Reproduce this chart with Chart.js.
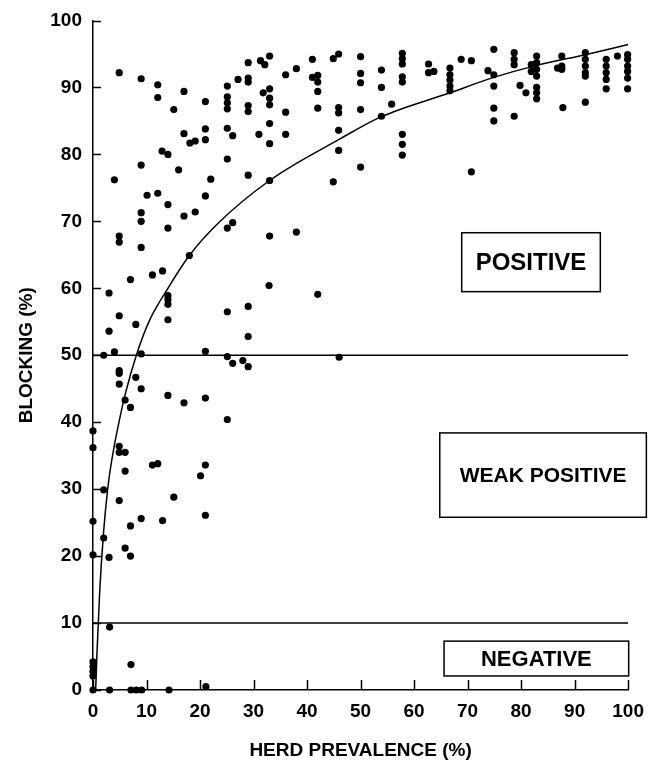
<!DOCTYPE html>
<html>
<head>
<meta charset="utf-8">
<script src="https://cdn.jsdelivr.net/npm/chart.js@4/dist/chart.umd.min.js"></script>
<style>
    html, body { margin: 0; padding: 0; background: #fff; }
    #wrap { width: 656px; height: 760px; position: relative; }
</style>
</head>
<body>
<div id="wrap"><canvas id="chart"></canvas></div>
<script>
// Herd prevalence (%) of each herd
const herdPrev = [
    4.9, 9.0, 12.1, 12.1, 17.0, 15.1, 21.0, 25.1, 25.1, 25.1, 25.1, 27.1, 29.0, 29.0, 29.0, 29.0, 29.0,
    31.3, 32.1, 33.0, 33.0, 31.8, 33.0, 33.0, 33.0, 33.0, 31.0, 17.0, 18.1, 19.1, 21.0, 21.0, 25.1, 26.1,
    25.1, 29.0, 33.0, 12.9, 14.0, 9.0, 16.0, 4.0, 10.1, 12.1, 14.0, 21.0, 22.0, 9.0, 9.0, 17.0, 19.1,
    14.0, 25.1, 26.1, 4.9, 4.9, 33.0, 9.0, 18.0, 7.0, 11.1, 13.0, 32.9, 3.0, 14.0, 14.0, 14.0, 14.0,
    25.1, 29.0, 29.0, 4.9, 3.0, 8.0, 2.0, 4.0, 9.0, 21.0, 25.1, 26.1, 28.0, 29.0, 4.9, 4.9, 4.9, 8.0,
    9.0, 6.0, 7.0, 14.0, 17.0, 21.0, 25.1, 0, 0, 4.9, 4.9, 6.0, 11.1, 12.1, 21.0, 20.1, 6.0, 2.0, 4.9,
    15.1, 0, 7.0, 9.0, 13.0, 21.0, 2.0, 0, 3.0, 6.0, 7.0, 3.1, 0, 0, 0, 0, 7.1, 0, 3.1, 7.1, 8.1, 9.1,
    14.2, 21.1,
    36.0, 38.0, 36.0, 36.0, 38.0, 41.0, 41.0, 42.0, 42.0, 42.0, 42.0, 42.0, 46.0, 45.9, 45.9, 45.9,
    45.9, 44.9, 44.9, 45.9, 50.0, 50.0, 50.0, 50.0, 50.0, 53.9, 53.9, 53.9, 55.8, 57.8, 57.8, 57.8,
    57.8, 57.8, 57.8, 57.8, 57.8, 62.7, 62.7, 63.7, 66.7, 66.7, 66.7, 66.7, 66.7, 68.8, 70.7, 70.7,
    74.9, 73.8, 74.9, 74.9, 74.9, 74.9, 78.7, 78.7, 78.7, 79.8, 80.9, 78.7, 82.9, 82.9, 81.9, 82.9,
    81.9, 82.9, 82.9, 82.9, 82.9, 87.6, 87.6, 86.8, 87.6, 87.8, 92.0, 92.0, 92.0, 92.0, 92.0, 92.0,
    95.9, 95.9, 95.9, 95.9, 95.9, 98.0, 99.9, 99.9, 99.9, 99.9, 99.9, 99.9
];
// Blocking (%) of the same herds
const blocking = [
    92.2, 91.3, 90.4, 88.5, 89.4, 86.7, 87.9, 90.2, 88.6, 87.7, 86.8, 91.2, 93.7, 91.4, 90.8, 87.3, 86.4,
    94.0, 93.4, 94.7, 89.8, 89.2, 88.4, 87.4, 84.6, 81.6, 83.0, 83.1, 81.7, 82.0, 83.8, 82.2, 83.9, 82.8,
    79.3, 76.9, 76.1, 80.5, 80.0, 78.4, 77.7, 76.2, 73.9, 74.2, 72.5, 73.8, 76.3, 71.3, 70.0, 70.8, 71.4,
    69.0, 69.0, 69.8, 67.8, 66.9, 67.8, 66.1, 64.9, 61.3, 62.0, 62.6, 60.4, 59.3, 58.9, 58.3, 57.6, 55.3,
    56.5, 57.3, 52.8, 55.9, 53.6, 54.6, 50.0, 50.5, 50.2, 50.6, 49.8, 48.8, 49.2, 48.3, 47.7, 47.3, 45.7, 46.7,
    45.0, 43.3, 42.2, 44.0, 42.9, 43.6, 40.4, 38.7, 36.2, 36.4, 35.5, 35.5, 33.6, 33.8, 33.6, 32.0, 32.7, 29.9, 28.3,
    28.8, 25.2, 24.5, 25.6, 25.3, 26.1, 22.7, 20.2, 19.8, 21.2, 20.0, 9.4, 4.2, 3.5, 2.8, 2.1, 3.8, 0, 0, 0, 0, 0,
    0, 0.5,
    91.9, 92.8, 86.3, 83.0, 68.4, 94.2, 91.5, 91.8, 90.8, 89.4, 86.9, 59.1, 49.7, 87.0, 86.2, 83.6,
    80.6, 75.9, 94.3, 95.0, 94.6, 92.1, 90.7, 86.7, 78.1, 92.6, 90.0, 85.7, 87.5, 95.1, 94.3, 93.5,
    91.6, 90.8, 83.0, 81.5, 79.9, 93.5, 92.2, 92.4, 92.9, 91.9, 91.1, 90.2, 89.5, 94.2, 94.0, 77.4,
    95.7, 92.5, 91.9, 90.2, 86.9, 85.0, 95.2, 94.2, 93.4, 90.3, 89.2, 85.7, 94.7, 93.7, 93.4, 92.7,
    92.4, 91.7, 90.0, 89.2, 88.3, 94.7, 93.2, 92.9, 92.7, 87.0, 95.2, 94.2, 93.2, 92.2, 91.7, 87.8,
    94.2, 93.2, 92.2, 91.2, 89.8, 94.7, 94.9, 94.2, 93.2, 92.4, 91.4, 89.8
];

// Fitted curve
const curveX = [0.5, 0.74, 1.24, 1.97, 2.77, 3.69, 4.93, 6.03, 8.1, 10.5, 14, 18, 23.1, 33, 45.9, 53.8, 66.7, 74.9, 82.9, 92, 100];
const curveY = [0, 5.4, 14.5, 23.5, 30.2, 35.2, 40.3, 44.2, 50, 55.1, 60, 64.9, 69.5, 76.1, 82.2, 85.6, 89.2, 91.5, 93.3, 94.9, 96.4];

// Cut-off lines
const cutoffs = [50, 10];
const cutoffSpan = [0, 100];

const xTicks = [0, 10, 20, 30, 40, 50, 60, 70, 80, 90, 100];
const yTicks = [0, 10, 20, 30, 40, 50, 60, 70, 80, 90, 100];

const FONT = "'Liberation Sans', Arial, Helvetica, sans-serif";

// Inward tick marks and the labelled boxes
const extras = {
    id: 'extras',
    afterDraw(chart) {
        const { ctx, scales: { x, y } } = chart;
        ctx.save();
        ctx.strokeStyle = '#000';
        ctx.lineWidth = 1.5;
        xTicks.forEach(v => {
            const px = Math.round(x.getPixelForValue(v)) + 0.5;
            ctx.beginPath();
            ctx.moveTo(px, y.bottom);
            ctx.lineTo(px, y.bottom - 10);
            ctx.stroke();
        });
        yTicks.forEach(v => {
            const py = Math.round(y.getPixelForValue(v)) + 0.5;
            ctx.beginPath();
            ctx.moveTo(x.left, py);
            ctx.lineTo(x.left + 8, py);
            ctx.stroke();
        });

        const boxes = [
            { text: 'POSITIVE', x0: 68.9, x1: 94.8, y0: 59.5, y1: 68.3, size: 24 },
            { text: 'WEAK POSITIVE', x0: 64.8, x1: 103.4, y0: 25.8, y1: 38.4, size: 21 },
            { text: 'NEGATIVE', x0: 65.6, x1: 100.1, y0: 2.1, y1: 7.3, size: 22 }
        ];
        boxes.forEach(b => {
            const l = x.getPixelForValue(b.x0), r = x.getPixelForValue(b.x1);
            const t = y.getPixelForValue(b.y1), btm = y.getPixelForValue(b.y0);
            ctx.fillStyle = '#fff';
            ctx.fillRect(l, t, r - l, btm - t);
            ctx.strokeRect(l, t, r - l, btm - t);
            ctx.fillStyle = '#000';
            ctx.font = `bold ${b.size}px ${FONT}`;
            ctx.textAlign = 'center';
            ctx.textBaseline = 'middle';
            ctx.fillText(b.text, (l + r) / 2, (t + btm) / 2 + 1);
        });
        ctx.restore();
    }
};

const points = herdPrev.map((v, i) => ({ x: v, y: blocking[i] }));
const curve = curveX.map((v, i) => ({ x: v, y: curveY[i] }));

const datasets = [{
    type: 'scatter',
    data: points,
    pointRadius: 3.6,
    pointBackgroundColor: '#000',
    pointBorderWidth: 0,
    clip: false
}, {
    type: 'line',
    data: curve,
    borderColor: '#000',
    borderWidth: 1.5,
    pointRadius: 0,
    cubicInterpolationMode: 'monotone',
    fill: false
}];
cutoffs.forEach(c => {
    datasets.push({
        type: 'line',
        data: cutoffSpan.map(v => ({ x: v, y: c })),
        borderColor: '#000',
        borderWidth: 1.5,
        pointRadius: 0,
        fill: false
    });
});

new Chart(document.getElementById('chart'), {
    type: 'scatter',
    data: { datasets },
    options: {
        responsive: true,
        maintainAspectRatio: false,
        animation: false,
        layout: { padding: { top: 20, right: 20, left: 0, bottom: 0 } },
        plugins: {
            legend: { display: false },
            tooltip: { enabled: false }
        },
        scales: {
            x: {
                type: 'linear',
                min: 0,
                max: 100,
                afterFit: s => { s.height = 70; },
                afterBuildTicks: s => { s.ticks = xTicks.map(v => ({ value: v })); },
                grid: { display: false, drawTicks: false },
                border: { display: true, color: '#000', width: 1.5 },
                ticks: {
                    padding: 12,
                    color: '#000',
                    maxRotation: 0,
                    font: { family: FONT, size: 19, weight: 'bold', lineHeight: 1 }
                },
                title: {
                    display: true,
                    text: 'HERD PREVALENCE (%)',
                    color: '#000',
                    padding: { top: 0, bottom: 0 },
                    font: { family: FONT, size: 19, weight: 'bold', lineHeight: 1 }
                }
            },
            y: {
                type: 'linear',
                min: 0,
                max: 100,
                afterFit: s => { s.width = 93; },
                afterBuildTicks: s => { s.ticks = yTicks.map(v => ({ value: v })); },
                grid: { display: false, drawTicks: false },
                border: { display: true, color: '#000', width: 1.5 },
                ticks: {
                    padding: 11,
                    color: '#000',
                    font: { family: FONT, size: 19, weight: 'bold', lineHeight: 1 }
                },
                title: {
                    display: true,
                    text: 'BLOCKING (%)',
                    color: '#000',
                    padding: { top: 17, bottom: 0 },
                    font: { family: FONT, size: 19, weight: 'bold', lineHeight: 1 }
                }
            }
        }
    },
    plugins: [extras]
});
</script>
</body>
</html>
